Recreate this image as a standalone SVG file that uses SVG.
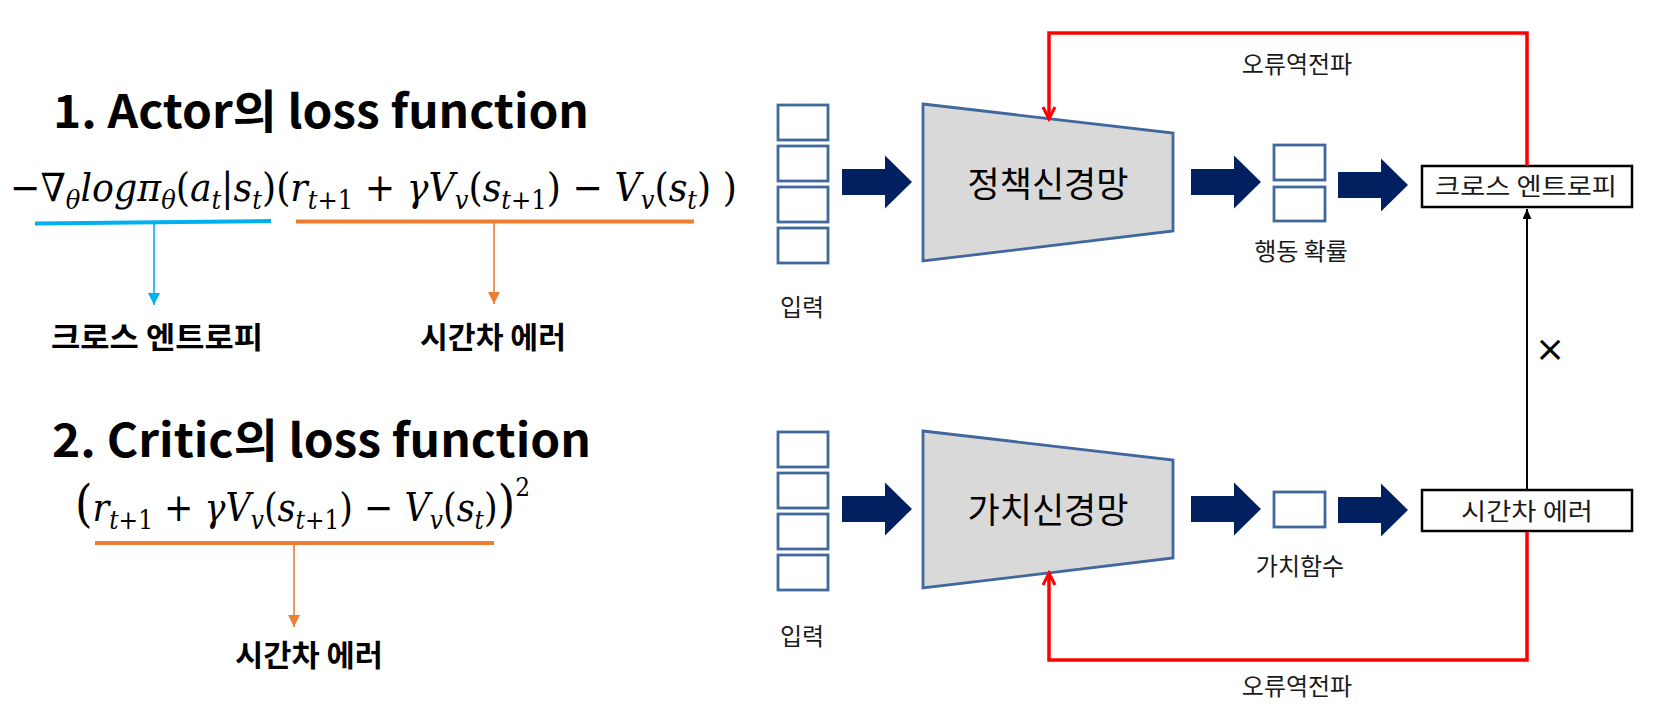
<svg xmlns="http://www.w3.org/2000/svg" width="1672" height="710" viewBox="0 0 1672 710">
<style>
.title{font-family:"Noto Sans CJK KR","Noto Sans",sans-serif;font-weight:700;font-size:46px;fill:#000}
.math{font-family:"DejaVu Serif","Liberation Serif",serif;font-size:39px;fill:#000}
.it{font-style:italic}
.sub{font-size:26px}
.blabel{font-family:"Noto Sans CJK KR",sans-serif;font-weight:700;font-size:30px;text-anchor:middle;fill:#000}
.lbl{font-family:"Noto Sans CJK KR",sans-serif;font-size:24px;text-anchor:middle;fill:#1a1a1a}
.net{font-family:"Noto Sans CJK KR",sans-serif;font-size:35px;text-anchor:middle;fill:#000}
.cell{fill:#fff;stroke:#41689C;stroke-width:2.8}
.trap{fill:#D9D9D9;stroke:#41689C;stroke-width:2.8}
.box{fill:#fff;stroke:#000;stroke-width:2.5}
.blk{fill:#002060}
.red{fill:none;stroke:#FF0000;stroke-width:3.5}
</style>
<defs>
<path id="barrow" d="M0,-13 H43 V-26.5 L70,0 L43,26.5 V13 H0 Z"/>
<marker id="redhead" markerUnits="userSpaceOnUse" markerWidth="16" markerHeight="16" refX="12" refY="7" orient="auto" viewBox="0 0 16 16">
<path d="M1,1 L13,7 L1,13" fill="none" stroke="#FF0000" stroke-width="3"/>
</marker>
<marker id="blackhead" markerUnits="userSpaceOnUse" markerWidth="12" markerHeight="10" refX="10" refY="4.5" orient="auto" viewBox="0 0 12 10">
<path d="M0,0 L10,4.5 L0,9 Z" fill="#000"/>
</marker>
<marker id="bluehead" markerUnits="userSpaceOnUse" markerWidth="14" markerHeight="14" refX="12" refY="6" orient="auto" viewBox="0 0 14 14">
<path d="M0,0 L12,6 L0,12 Z" fill="#00B0F0"/>
</marker>
<marker id="orangehead" markerUnits="userSpaceOnUse" markerWidth="14" markerHeight="14" refX="12" refY="6" orient="auto" viewBox="0 0 14 14">
<path d="M0,0 L12,6 L0,12 Z" fill="#ED7D31"/>
</marker>
</defs>

<!-- Left side: formulas -->
<g id="actor-title">
<text class="title" x="53" y="128" textLength="536" lengthAdjust="spacingAndGlyphs">1. Actor의 loss function</text>
</g>
<g id="actor-formula">
<text class="math" x="10" y="201" textLength="727" lengthAdjust="spacingAndGlyphs">−<tspan class="it">∇</tspan><tspan class="sub it" dy="8">θ</tspan><tspan class="it" dy="-8">logπ</tspan><tspan class="sub it" dy="8">θ</tspan><tspan dy="-8">(</tspan><tspan class="it">a</tspan><tspan class="sub it" dy="8">t</tspan><tspan dy="-8">|</tspan><tspan class="it">s</tspan><tspan class="sub it" dy="8">t</tspan><tspan dy="-8">)(</tspan><tspan class="it">r</tspan><tspan class="sub" dy="8"><tspan class="it">t</tspan>+1</tspan><tspan dy="-8"> + </tspan><tspan class="it">γV</tspan><tspan class="sub it" dy="8">v</tspan><tspan dy="-8">(</tspan><tspan class="it">s</tspan><tspan class="sub" dy="8"><tspan class="it">t</tspan>+1</tspan><tspan dy="-8">) − </tspan><tspan class="it">V</tspan><tspan class="sub it" dy="8">v</tspan><tspan dy="-8">(</tspan><tspan class="it">s</tspan><tspan class="sub it" dy="8">t</tspan><tspan dy="-8">) )</tspan></text>
</g>
<g id="actor-ce-label"><text class="blabel" x="157" y="348" textLength="212" lengthAdjust="spacingAndGlyphs">크로스 엔트로피</text></g>
<g id="actor-td-label"><text class="blabel" x="493" y="348" textLength="146" lengthAdjust="spacingAndGlyphs">시간차 에러</text></g>

<g id="critic-title">
<text class="title" x="52" y="457" textLength="539" lengthAdjust="spacingAndGlyphs">2. Critic의 loss function</text>
</g>
<g id="critic-formula">
<text class="math" x="75" y="521" textLength="455" lengthAdjust="spacingAndGlyphs"><tspan font-size="50">(</tspan><tspan class="it">r</tspan><tspan class="sub" dy="8"><tspan class="it">t</tspan>+1</tspan><tspan dy="-8"> + </tspan><tspan class="it">γV</tspan><tspan class="sub it" dy="8">v</tspan><tspan dy="-8">(</tspan><tspan class="it">s</tspan><tspan class="sub" dy="8"><tspan class="it">t</tspan>+1</tspan><tspan dy="-8">) − </tspan><tspan class="it">V</tspan><tspan class="sub it" dy="8">v</tspan><tspan dy="-8">(</tspan><tspan class="it">s</tspan><tspan class="sub it" dy="8">t</tspan><tspan dy="-8">)</tspan><tspan font-size="50">)</tspan><tspan class="sub" dy="-25">2</tspan></text>
</g>
<g id="critic-td-label"><text class="blabel" x="309" y="666" textLength="148" lengthAdjust="spacingAndGlyphs">시간차 에러</text></g>

<g id="left-connectors">
<line x1="35" y1="223.5" x2="271" y2="221" stroke="#00B0F0" stroke-width="4"/>
<line x1="296" y1="221.5" x2="694" y2="221.5" stroke="#ED7D31" stroke-width="4"/>
<line x1="154" y1="223" x2="154" y2="305" stroke="#00B0F0" stroke-width="1.6" marker-end="url(#bluehead)"/>
<line x1="494" y1="223" x2="494" y2="304" stroke="#ED7D31" stroke-width="1.6" marker-end="url(#orangehead)"/>
<line x1="95" y1="543" x2="494" y2="543" stroke="#ED7D31" stroke-width="4"/>
<line x1="294" y1="544" x2="294" y2="627" stroke="#ED7D31" stroke-width="1.6" marker-end="url(#orangehead)"/>
</g>

<!-- Right side: actor network -->
<g id="actor-input">
<rect class="cell" x="778" y="105" width="50" height="35"/>
<rect class="cell" x="778" y="146" width="50" height="35"/>
<rect class="cell" x="778" y="187" width="50" height="35"/>
<rect class="cell" x="778" y="228" width="50" height="35"/>
<text class="lbl" x="802" y="316">입력</text>
</g>
<g id="policy-net">
<polygon class="trap" points="923,104 1173,133 1173,231 923,261"/>
<text class="net" x="1048" y="197">정책신경망</text>
</g>
<g id="action-prob">
<rect class="cell" x="1274" y="145" width="51" height="35"/>
<rect class="cell" x="1274" y="187" width="51" height="34"/>
<text class="lbl" x="1301" y="260">행동 확률</text>
</g>
<g id="cross-entropy">
<rect class="box" x="1422" y="166" width="210" height="41"/>
<text class="lbl" x="1526" y="195" font-size="25" textLength="182" lengthAdjust="spacingAndGlyphs">크로스 엔트로피</text>
</g>

<!-- Right side: critic network -->
<g id="critic-input">
<rect class="cell" x="778" y="432" width="50" height="35"/>
<rect class="cell" x="778" y="473" width="50" height="35"/>
<rect class="cell" x="778" y="514" width="50" height="35"/>
<rect class="cell" x="778" y="555" width="50" height="35"/>
<text class="lbl" x="802" y="645">입력</text>
</g>
<g id="value-net">
<polygon class="trap" points="923,431 1173,460 1173,558 923,588"/>
<text class="net" x="1048" y="523">가치신경망</text>
</g>
<g id="value-func">
<rect class="cell" x="1274" y="492" width="51" height="35"/>
<text class="lbl" x="1300" y="575">가치함수</text>
</g>
<g id="td-error">
<rect class="box" x="1422" y="490" width="210" height="41"/>
<text class="lbl" x="1527" y="520" font-size="25" textLength="132" lengthAdjust="spacingAndGlyphs">시간차 에러</text>
</g>

<g id="connectors">
<use href="#barrow" class="blk" transform="translate(842,182)"/>
<use href="#barrow" class="blk" transform="translate(1191,182)"/>
<use href="#barrow" class="blk" transform="translate(1338,185)"/>
<use href="#barrow" class="blk" transform="translate(842,509)"/>
<use href="#barrow" class="blk" transform="translate(1191,509)"/>
<use href="#barrow" class="blk" transform="translate(1338,510)"/>
<polyline class="red" points="1527,166 1527,33 1049,33 1049,118" marker-end="url(#redhead)"/>
<polyline class="red" points="1527,532 1527,660 1049,660 1049,574" marker-end="url(#redhead)"/>
<line x1="1527" y1="489" x2="1527" y2="209" stroke="#000" stroke-width="2" marker-end="url(#blackhead)"/>
<text class="lbl" x="1297" y="73">오류역전파</text>
<text class="lbl" x="1297" y="695">오류역전파</text>
<text x="1550" y="361" font-family="DejaVu Sans, sans-serif" font-size="36" text-anchor="middle" fill="#000">×</text>
</g>
</svg>
